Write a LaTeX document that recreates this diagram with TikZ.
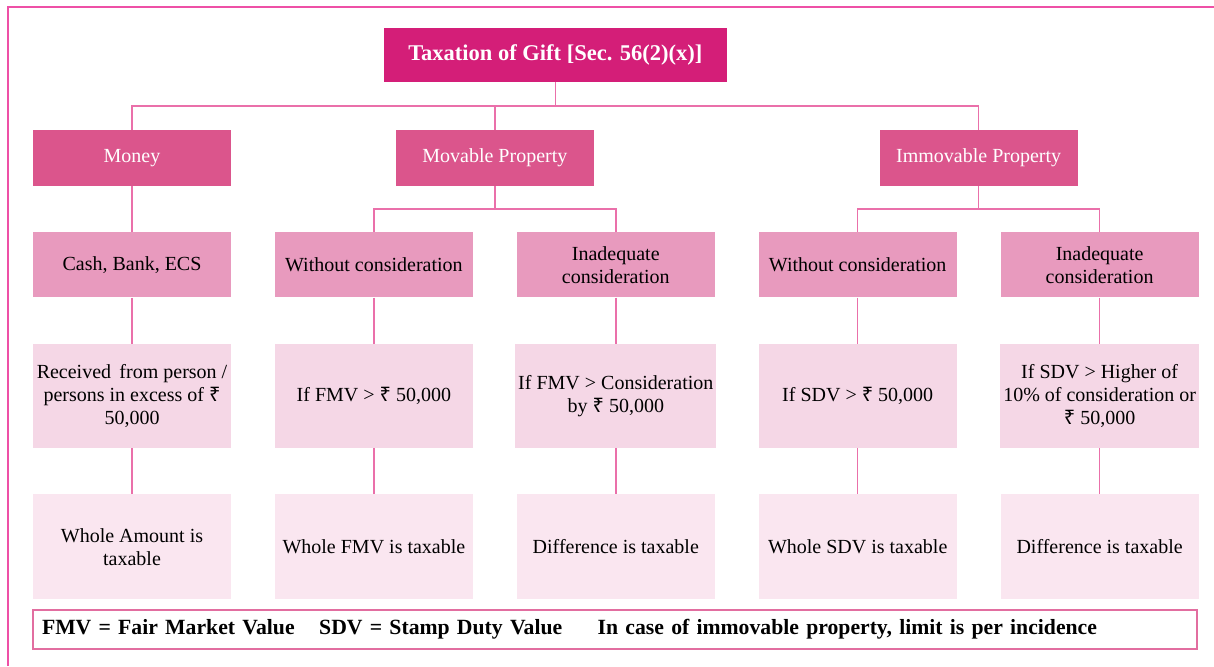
\documentclass[tikz,border=0pt]{standalone}
\usepackage{fontspec}
\setmainfont{Liberation Serif}
\newfontfamily\rupeefont{Noto Sans}
\newcommand\rs{{\rupeefont\char"20B9}}
\usetikzlibrary{positioning,calc}
\definecolor{giftred}{RGB}{212,30,120}
\definecolor{catpink}{RGB}{219,85,140}
\definecolor{kindpink}{RGB}{232,154,190}
\definecolor{condpink}{RGB}{245,215,230}
\definecolor{respink}{RGB}{250,230,240}
\definecolor{linepink}{RGB}{234,112,170}
\definecolor{framepink}{RGB}{238,80,166}
\definecolor{notepink}{RGB}{226,110,160}

\begin{document}
\begin{tikzpicture}[x=1pt, y=-1pt,
    node distance=46pt and 43.5pt,
    base/.style={minimum width=198pt, inner sep=3pt, align=center,
                 font=\fontsize{20}{23}\selectfont},
    titlebox/.style={fill=giftred, text=white, minimum width=343pt, minimum height=54pt,
                     font=\bfseries\fontsize{22.5}{26}\selectfont},
    catbox/.style={base, fill=catpink, text=white, minimum height=56pt},
    kindbox/.style={base, fill=kindpink, minimum height=65pt},
    condbox/.style={base, fill=condpink, minimum height=104pt},
    resbox/.style={base, fill=respink, minimum height=105pt},
    notebox/.style={draw=notepink, line width=1.2pt, fill=white, text width=1146pt,
                    inner sep=9pt, minimum height=39pt, align=left,
                    font=\bfseries\fontsize{21.7}{24}\selectfont},
    conn/.style={draw=linepink, line width=1.5pt}
  ]
    \useasboundingbox (0,0) rectangle (1214,666);
    \draw[framepink, line width=2pt] (8,666) -- (8,7) -- (1214,7);

    % second row: kinds
    \node[catbox] (money) at (132,158) {Money};
    \node[kindbox, below=of money] (cash) {Cash, Bank, ECS};
    \node[kindbox, right=of cash]  (mvwo) {Without consideration};
    \node[kindbox, right=of mvwo]  (mvin) {Inadequate\\consideration};
    \node[kindbox, right=of mvin]  (imwo) {Without consideration};
    \node[kindbox, right=of imwo]  (imin) {Inadequate\\consideration};

    % first row: property type
    \coordinate (mvmid) at ($(mvwo.north)!0.5!(mvin.north)$);
    \coordinate (immid) at ($(imwo.north)!0.5!(imin.north)$);
    \node[catbox, above=of mvmid, anchor=south] (movable) {Movable Property};
    \node[catbox, above=of immid, anchor=south] (immov)   {Immovable Property};

    \coordinate (topmid) at ($(money.north)!0.5!(immov.north)$);
    \node[titlebox, above=48pt of topmid] (gift) {Taxation of Gift [Sec. 56(2)(x)]};

    % conditions
    \node[condbox, below=of cash] (recv)    {Received\, from person /\\persons in excess of \rs\\50,000};
    \node[condbox, below=of mvwo] (fmvif)   {If FMV > \rs{} 50,000};
    \node[condbox, below=of mvin] (fmvdiff) {If FMV > Consideration\\by \rs{} 50,000};
    \node[condbox, below=of imwo] (sdvif)   {If SDV > \rs{} 50,000};
    \node[condbox, below=of imin] (sdvdiff) {If SDV > Higher of\\10\% of consideration or\\\rs{} 50,000};

    % results
    \node[resbox, below=of recv]    (amtres)   {Whole Amount is\\taxable};
    \node[resbox, below=of fmvif]   (fmvres)   {Whole FMV is taxable};
    \node[resbox, below=of fmvdiff] (diffres)  {Difference is taxable};
    \node[resbox, below=of sdvif]   (sdvres)   {Whole SDV is taxable};
    \node[resbox, below=of sdvdiff] (diffres2) {Difference is taxable};

    \node[notebox] (note) at (615,629.5) {FMV = Fair Market Value\hspace{0.8em} SDV = Stamp Duty Value\hspace{1.3em} In case of immovable property, limit is per incidence};

    % connectors
    \foreach \n in {money, movable, immov}
      \draw[conn] (gift.south) -- ++(0,-24pt) -| (\n.north);
    \draw[conn] (money.south) -- (cash.north);
    \draw[conn] (movable.south) -- ++(0,-23pt) -| (mvwo.north);
    \draw[conn] (movable.south) -- ++(0,-23pt) -| (mvin.north);
    \draw[conn] (immov.south) -- ++(0,-23pt) -| (imwo.north);
    \draw[conn] (immov.south) -- ++(0,-23pt) -| (imin.north);
    \foreach \a/\b in {cash/recv, mvwo/fmvif, mvin/fmvdiff, imwo/sdvif, imin/sdvdiff,
                       recv/amtres, fmvif/fmvres, fmvdiff/diffres, sdvif/sdvres, sdvdiff/diffres2}
      \draw[conn] (\a.south) -- (\b.north);
  \end{tikzpicture}
\end{document}
